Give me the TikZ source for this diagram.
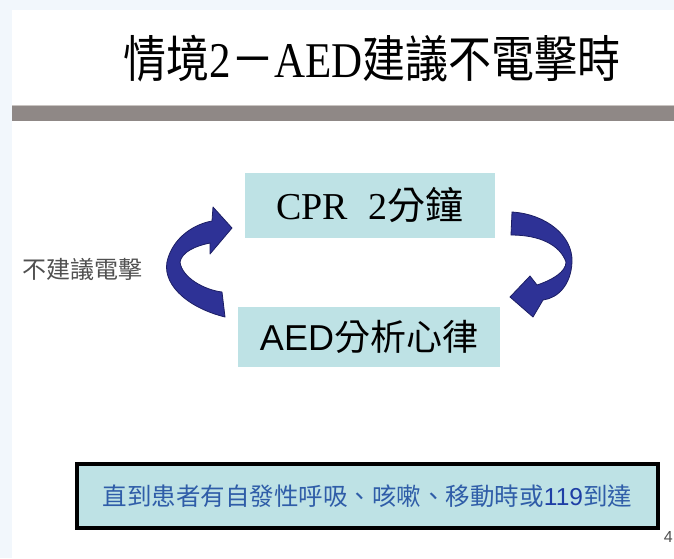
\documentclass[tikz,border=0pt]{standalone}
\usepackage{graphicx}
\usepackage{fontspec}
\setmainfont{Liberation Serif}
\newfontfamily\cjk{Noto Sans CJK TC}
\newfontfamily\lsans{Liberation Sans}
\definecolor{pagebg}{RGB}{242,247,252}
\definecolor{barcol}{RGB}{143,136,134}
\definecolor{barlight}{RGB}{201,196,193}
\definecolor{boxfill}{RGB}{190,226,229}
\definecolor{navy}{RGB}{46,50,150}
\definecolor{navydark}{RGB}{28,30,100}
\definecolor{txtblue}{RGB}{47,93,168}
\definecolor{numblue}{RGB}{30,62,165}
\definecolor{labelgray}{RGB}{80,80,80}
\tikzset{
  panel/.style={fill=boxfill, inner sep=0pt},
  ribbon/.style={fill=navy, draw=navydark, line width=0.8pt, line join=round},
}
\begin{document}
\begin{tikzpicture}[x=1pt,y=-1pt]
\useasboundingbox (0,0) rectangle (674,558);
% page background
\fill[pagebg] (0,0) rectangle (674,558);
\fill[white] (12,10) rectangle (674,558);
% title
\node[inner sep=0pt] (title) at (372,59)
  {\scalebox{0.86}[1]{\fontsize{50}{60}\selectfont\cjk 情境{\rmfamily 2}－{\rmfamily AED}建議不電擊時}};
% bar
\fill[barlight] (12,104.5) rectangle (674,106);
\fill[barcol] (12,106) rectangle (674,121);
% boxes
\node[panel, minimum width=250pt, minimum height=65pt] (cpr) at (370,205.5)
  {\fontsize{38}{44}\selectfont{\rmfamily CPR}\hspace{0.55em}{\rmfamily 2}{\cjk 分鐘}};
\node[panel, minimum width=262pt, minimum height=60pt] (aed) at (369,337)
  {\fontsize{36}{42}\selectfont{\lsans AED}{\cjk 分析心律}};
\node[text=labelgray, inner sep=0pt] (nolabel) at (82,269)
  {\fontsize{24}{28}\selectfont\cjk 不建議電擊};
% left curved arrow (AED -> CPR)
\path[ribbon] (225,317) .. controls (185,307) and (160,282) .. (168,258)
  .. controls (175,236) and (195,224) .. (212,221)
  -- (213,207) -- (232,228) -- (210,254) -- (210,243)
  .. controls (195,246) and (182,252) .. (180,262)
  .. controls (182,278) and (205,290) .. (222,292) -- cycle;
% right curved arrow (CPR -> AED)
\path[ribbon] (512,212) .. controls (545,214) and (573,235) .. (572,262)
  .. controls (571,285) and (558,298) .. (543,300)
  -- (533,317) -- (510,297) -- (530,276) -- (537,285)
  .. controls (552,280) and (566,272) .. (566,262)
  .. controls (560,245) and (540,235) .. (511,235) -- cycle;
% bottom box
\node[panel, draw=black, line width=4pt, minimum width=581pt, minimum height=64pt,
  text=txtblue] (until) at (367.5,496)
  {\fontsize{24.5}{30}\selectfont\cjk 直到患者有自發性呼吸、咳嗽、移動時或{\lsans\color{numblue}119}到達};
% page number
\node[anchor=east, inner sep=0pt, text=labelgray] (pnum) at (673,537)
  {\fontsize{16}{18}\selectfont\lsans 4};
\end{tikzpicture}
\end{document}
